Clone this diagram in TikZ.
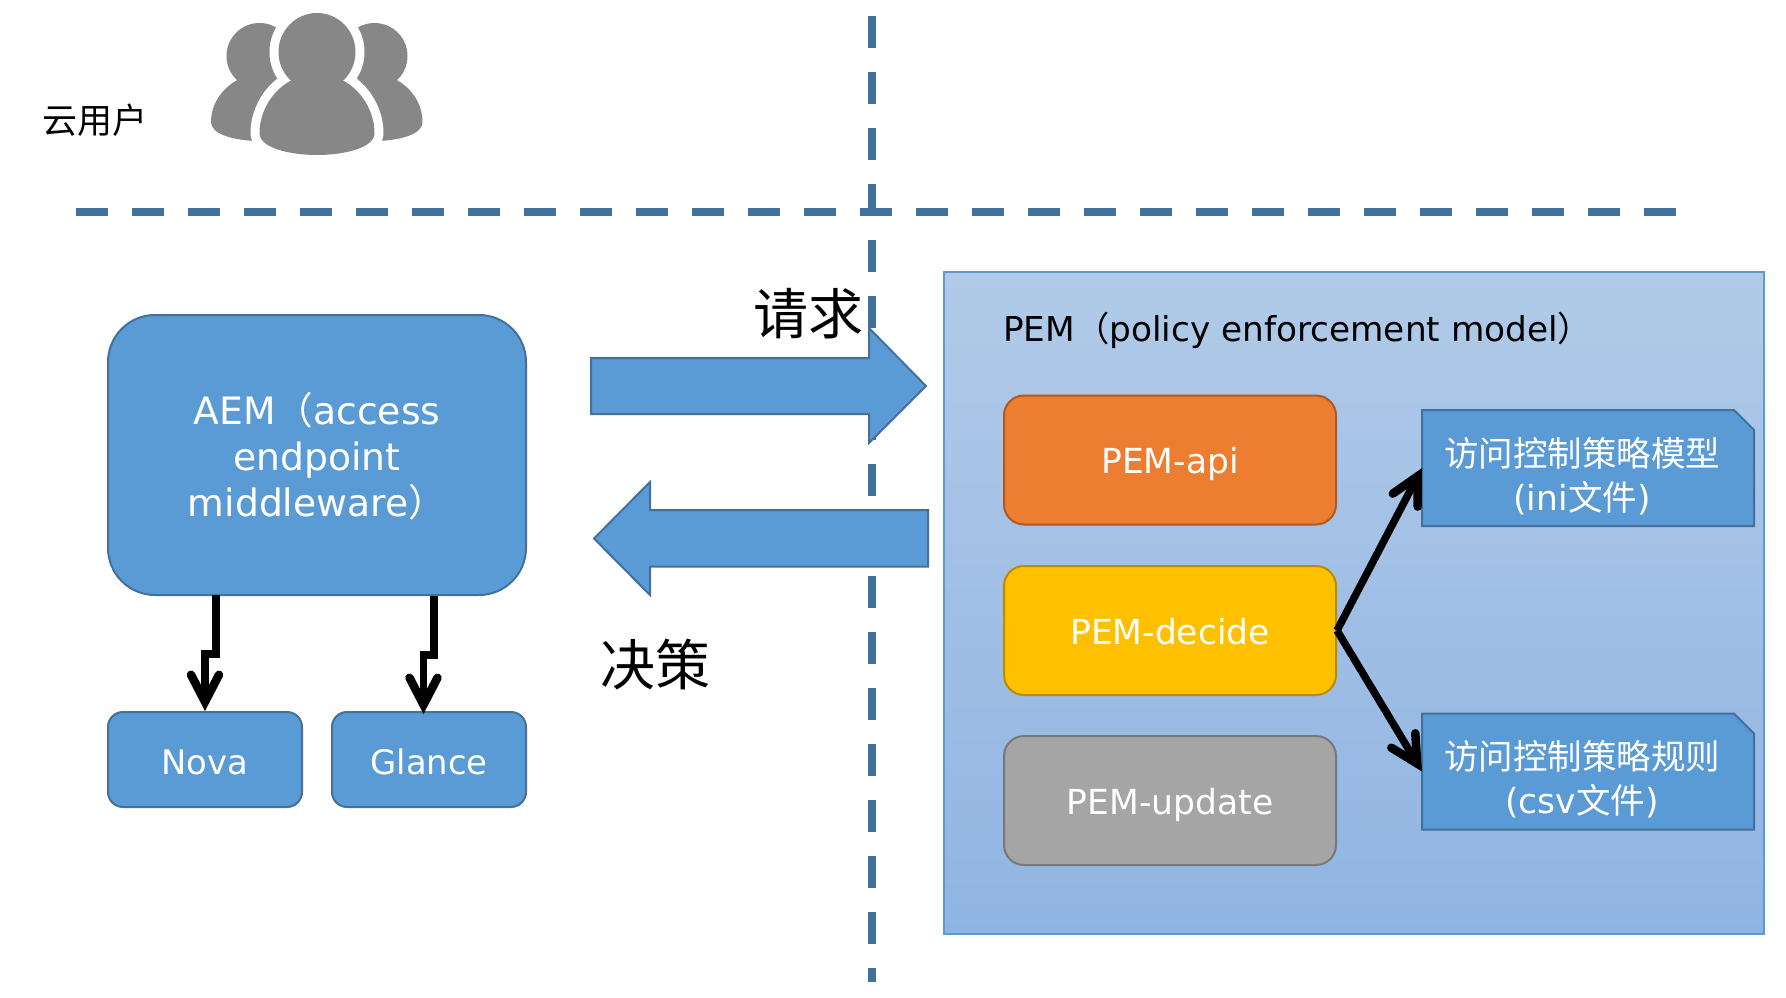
\documentclass[tikz,border=0pt]{standalone}
\usepackage{fontspec}
\setmainfont{DejaVu Sans}
\newfontfamily\cjk{Noto Sans CJK SC}
\usetikzlibrary{arrows.meta}
\definecolor{bluefill}{HTML}{5B9BD5}
\definecolor{blueline}{HTML}{41719C}
\definecolor{orangefill}{HTML}{ED7D31}
\definecolor{orangeline}{HTML}{AE5A21}
\definecolor{goldfill}{HTML}{FFC000}
\definecolor{goldline}{HTML}{BC8C00}
\definecolor{grayfill}{HTML}{A5A5A5}
\definecolor{grayline}{HTML}{787878}
\definecolor{iconfill}{HTML}{878787}
\definecolor{pemtop}{HTML}{B1CAE8}
\definecolor{pembottom}{HTML}{90B4E2}
\newcommand{\fs}[2]{\fontsize{#1}{#2}\selectfont}
\tikzset{
  divider/.style={draw=blueline,line width=8pt,dash pattern=on 32pt off 24pt},
  flow/.style={fill=bluefill,draw=blueline,line width=2pt,miter limit=10},
  pill/.style={rounded corners=#1,draw,line width=2pt,inner sep=0pt,align=center,text=white},
  pembtn/.style={pill=20pt,minimum width=332pt,minimum height=129pt,font=\fs{34.5}{44},text height=27.5pt,text depth=0pt},
  svc/.style={pill=15pt,fill=bluefill,draw=blueline,minimum width=194pt,minimum height=95pt,font=\fs{33.8}{44},text height=29pt,text depth=0pt},
  docshape/.style={minimum width=332pt,minimum height=116pt,inner sep=0pt,outer sep=0pt},
  bodytext/.style={text=white,align=center,inner sep=0pt},
  link/.style={line width=7.5pt,-{Straight Barb[length=27pt,width=28pt,line cap=round,line join=miter,line width=8.5pt]}},
  caption/.style={inner sep=0pt,text=black},
}
\begin{document}
\begin{tikzpicture}[x=1pt,y=-1pt]
\useasboundingbox (0,0) rectangle (1786,998);
% dividers
\coordinate (vtop) at (872,16);
\coordinate (vbot) at (872,982);
\coordinate (hleft) at (76,212);
\coordinate (hright) at (1680,212);
\draw[divider] (vtop) -- (vbot);
\draw[divider] (hleft) -- (hright);
% people icon
\fill[iconfill] (259.5,56) ellipse [x radius=33,y radius=33];
\fill[iconfill] (239,79) .. controls (222,88) and (211,104) .. (211,122) .. controls (211,134) and (232,140) .. (256,141) -- (290,120) -- (280,75) -- cycle;
\fill[iconfill] (374.5,56) ellipse [x radius=33,y radius=33];
\fill[iconfill] (395,79) .. controls (412,88) and (422.5,104) .. (422.5,122) .. controls (422.5,134) and (402,140) .. (378,141) -- (344,120) -- (354,75) -- cycle;
\draw[white,fill=white,line width=18pt,line join=round] (317,52) ellipse [x radius=38.5,y radius=39];
\draw[white,fill=white,line width=18pt,line join=round] (292,80) .. controls (272,90) and (259.5,112) .. (259.5,133) .. controls (259.5,148) and (290,155) .. (317,155) .. controls (344,155) and (374.5,148) .. (374.5,133) .. controls (374.5,112) and (362,90) .. (342,80) -- cycle;
\fill[iconfill] (317,52) ellipse [x radius=38.5,y radius=39];
\fill[iconfill] (292,80) .. controls (272,90) and (259.5,112) .. (259.5,133) .. controls (259.5,148) and (290,155) .. (317,155) .. controls (344,155) and (374.5,148) .. (374.5,133) .. controls (374.5,112) and (362,90) .. (342,80) -- cycle;
\node[caption,font=\fs{35}{35}\cjk] (cloud) at (94.5,120) {云用户};
% PEM container
\node[draw=bluefill,line width=2pt,top color=pemtop,bottom color=pembottom,minimum width=820pt,minimum height=662pt,inner sep=0pt] (pem) at (1354,603) {};
\node[caption,anchor=west,font=\fs{34.3}{40}] (pemtitle) at (1003,330) {PEM{\cjk（}policy enforcement model{\cjk ）}};
% block arrows
\draw[flow] (591,358) -- (869,358) -- (869,328) -- (926,386) -- (869,443) -- (869,414) -- (591,414) -- cycle;
\draw[flow] (928,510) -- (650,510) -- (650,482) -- (594,538.5) -- (650,595) -- (650,566.5) -- (928,566.5) -- cycle;
\node[caption,font=\fs{55}{55}\cjk] (req) at (808,314) {请求};
\node[caption,font=\fs{55}{55}\cjk] (dec) at (655.5,665) {决策};
% AEM
\node[pill=47pt,fill=bluefill,draw=blueline,minimum width=418pt,minimum height=280pt] (aem) at (317,455) {};
\node[bodytext,font=\fs{37.7}{46}] (aemtext) at (317,456.5) {AEM{\cjk（}access\\endpoint\\middleware{\cjk ）}};
\node[svc] (nova) at (205,759.5) {Nova};
\node[svc] (glance) at (429,759.5) {Glance};
% PEM buttons
\node[pembtn,fill=orangefill,draw=orangeline] (api) at (1170,460) {PEM-api};
\node[pembtn,fill=goldfill,draw=goldline] (decide) at (1170,630.5) {PEM-decide};
\node[pembtn,fill=grayfill,draw=grayline] (update) at (1170,800.5) {PEM-update};
% documents
\node[docshape] (model) at (1588,468) {};
\node[docshape] (rule) at (1588,771.5) {};
\draw[flow] (model.north west) -- (1734,410) -- (1754,430) -- (model.south east) -- (model.south west) -- cycle;
\draw[flow] (rule.north west) -- (1734,713.5) -- (1754,733.5) -- (rule.south east) -- (rule.south west) -- cycle;
\node[bodytext,font=\fs{34.5}{44}] (modeltext) at (1582,476) {{\cjk 访问控制策略模型}\\(ini{\cjk 文件})};
\node[bodytext,font=\fs{34.5}{44}] (ruletext) at (1582,779.5) {{\cjk 访问控制策略规则}\\(csv{\cjk 文件})};
% connectors
\draw[link] (216,595) -- (216,654) -- (205,654) -- (nova.north);
\draw[link] (434,596) -- (434,655) -- (423.5,655) -- (423.5,714);
\draw[link] (decide.east) -- (model.west);
\draw[link] (decide.east) -- (rule.west);
\end{tikzpicture}
\end{document}
